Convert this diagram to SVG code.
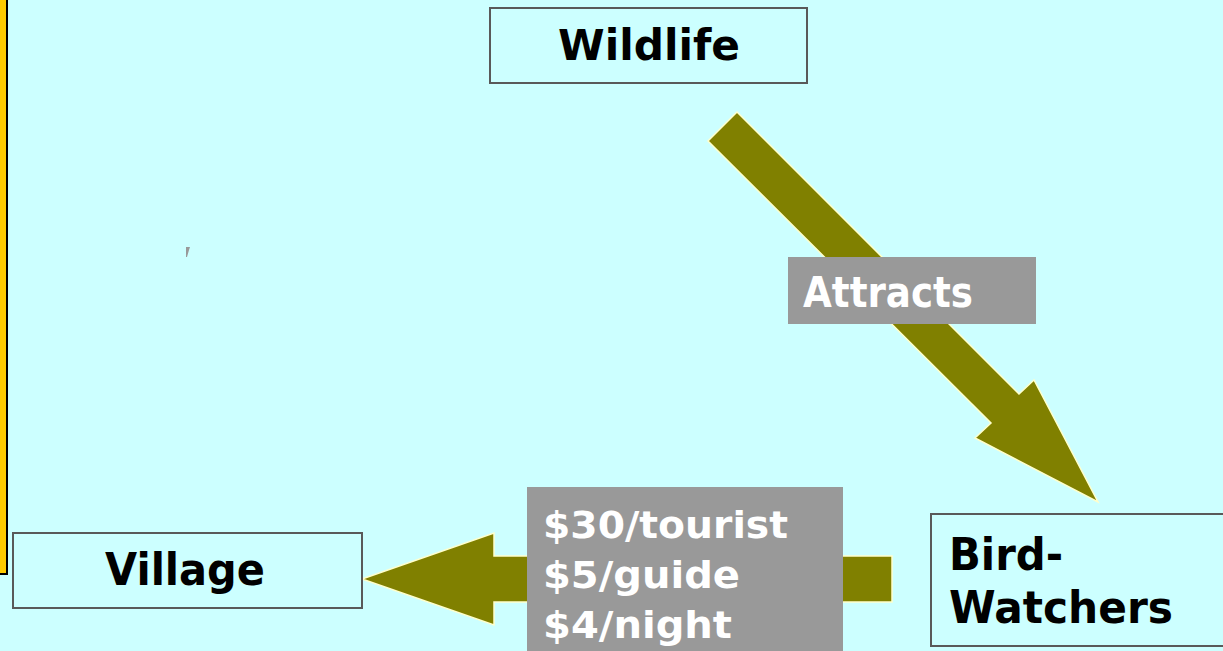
<svg xmlns="http://www.w3.org/2000/svg" width="1223" height="651" viewBox="0 0 1223 651">
<defs>
<style>
.box{fill:#CCFFFF;stroke:#595959;stroke-width:2}
.arrow{fill:#808000;stroke:#FFFFCC;stroke-width:1.5;stroke-linejoin:miter}
.lab{fill:#999999}
.t{font-family:"DejaVu Sans","Liberation Sans",sans-serif;font-weight:bold}
.dark{fill:#000000}
.white{fill:#FFFFFF}
</style>
</defs>
<rect x="0" y="0" width="1223" height="651" fill="#CCFFFF"/>
<rect x="-3" y="-3" width="10" height="577" fill="#FFCC00" stroke="#000000" stroke-width="2"/>
<polygon points="186,247 190,247 189,250 187,257 186,257" fill="#999999"/>
<g id="connectors">
<polygon class="arrow" points="737,112 1019,394 1034,380 1098,502 975,438 991,423 708,141"/>
<polygon class="arrow" points="362,579 494,533 494,556 892,556 892,602 494,602 494,625"/>
<g id="label-attracts">
<rect class="lab" x="788" y="257" width="248" height="67"/>
<text class="t white" x="803" y="307" font-size="42" textLength="170" lengthAdjust="spacingAndGlyphs">Attracts</text>
</g>
<g id="label-money">
<rect class="lab" x="527" y="487" width="316" height="170"/>
<text class="t white" x="543" y="538" font-size="38" textLength="245" lengthAdjust="spacingAndGlyphs">$30/tourist</text>
<text class="t white" x="543" y="588" font-size="38" textLength="197" lengthAdjust="spacingAndGlyphs">$5/guide</text>
<text class="t white" x="543" y="638" font-size="38" textLength="189" lengthAdjust="spacingAndGlyphs">$4/night</text>
</g>
</g>
<g id="wildlife">
<rect class="box" x="490" y="8" width="317" height="75"/>
<text class="t dark" x="558" y="60" font-size="42" textLength="182" lengthAdjust="spacingAndGlyphs">Wildlife</text>
</g>
<g id="village">
<rect class="box" x="13" y="533" width="349" height="75"/>
<text class="t dark" x="105" y="585" font-size="44" textLength="160" lengthAdjust="spacingAndGlyphs">Village</text>
</g>
<g id="bird-watchers">
<rect class="box" x="931" y="514" width="300" height="132"/>
<text class="t dark" x="949" y="570" font-size="45" textLength="114" lengthAdjust="spacingAndGlyphs">Bird-</text>
<text class="t dark" x="949" y="623" font-size="45" textLength="224" lengthAdjust="spacingAndGlyphs">Watchers</text>
</g>
</svg>
